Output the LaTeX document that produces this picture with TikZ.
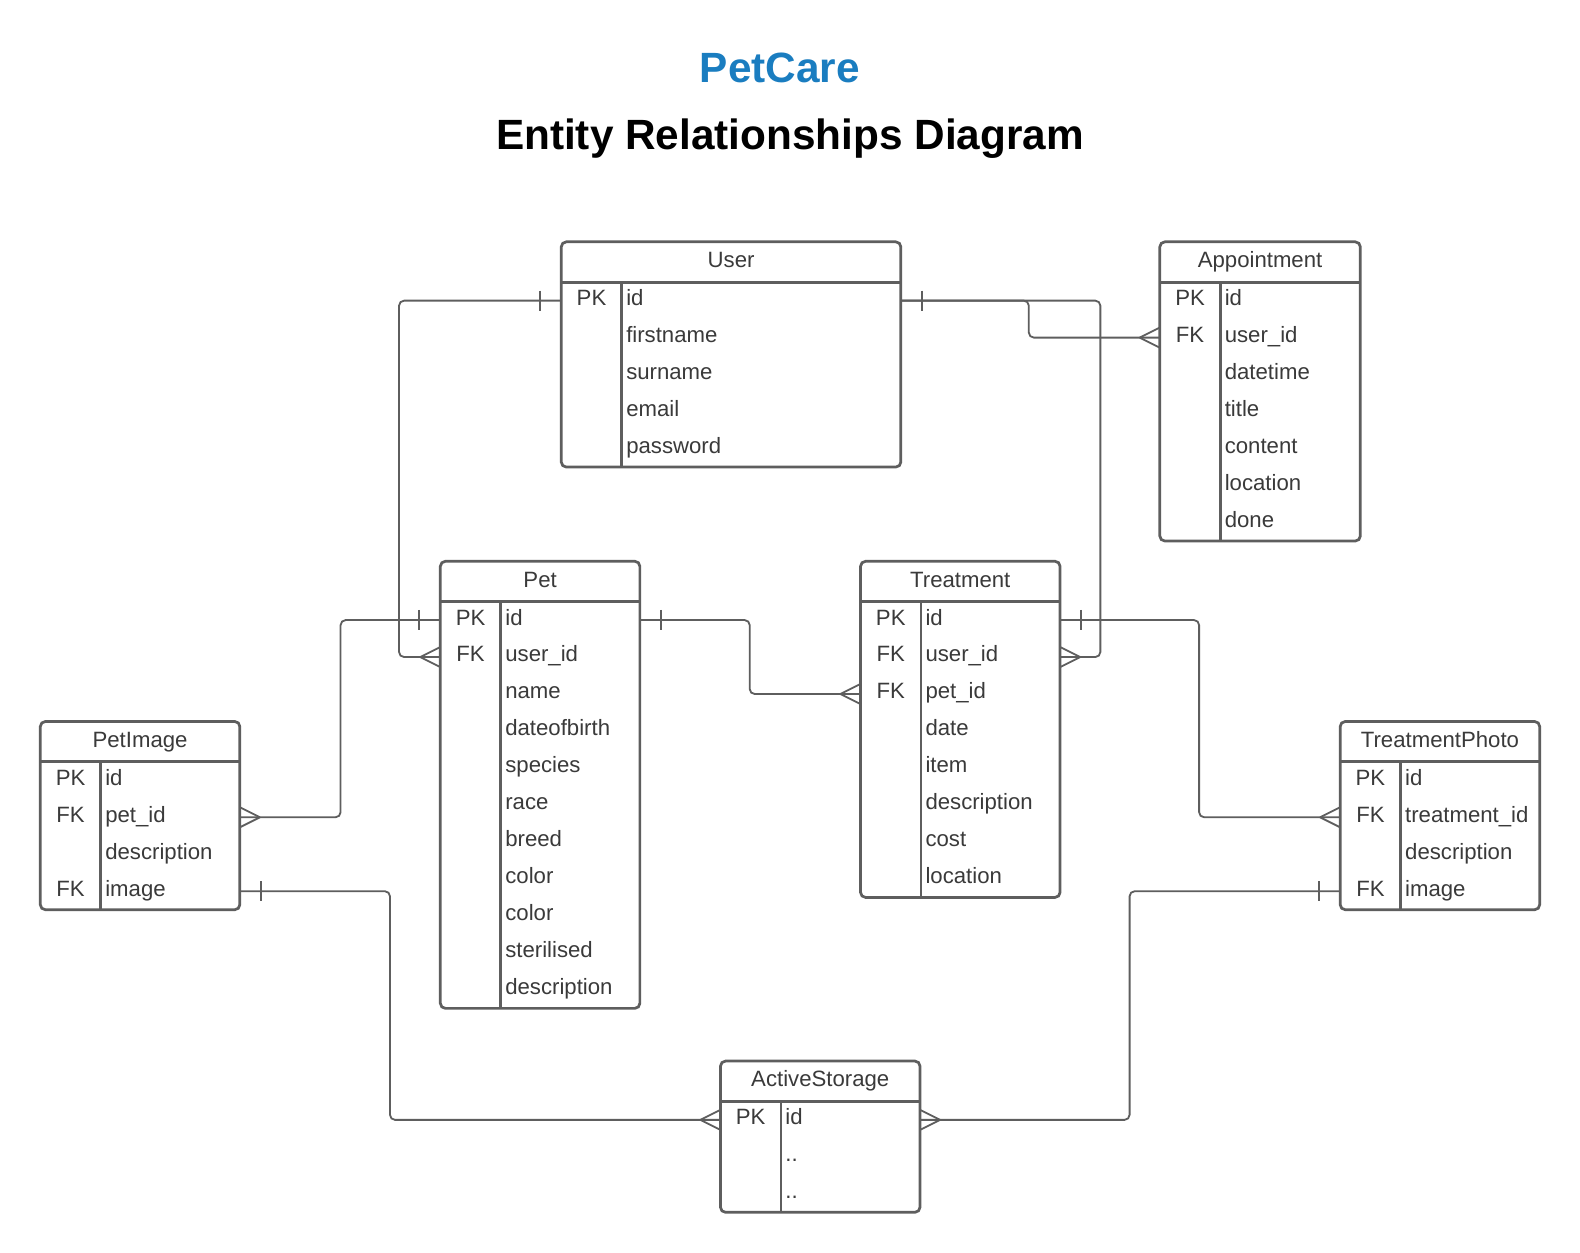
\documentclass[tikz,border=0pt]{standalone}
\usepackage{fontspec}
\setmainfont{Liberation Sans}
\usetikzlibrary{calc}
\definecolor{linegray}{HTML}{5E5E5E}
\definecolor{txtgray}{HTML}{3A3A3A}
\definecolor{petblue}{HTML}{1A7DC0}

\tikzset{
  ebox/.style={draw=linegray, line width=2.7pt, rounded corners=5pt, inner sep=0pt, outer sep=0pt, fill=white},
  eline/.style={draw=linegray, line width=2.7pt},
  rowbox/.style={inner sep=0pt, outer sep=0pt, minimum height=36.7pt},
  etext/.style={inner sep=0pt, outer sep=0pt, text=txtgray, font=\fontsize{22pt}{26pt}\selectfont, text height=15.8pt, text depth=4.6pt},
  conn/.style={draw=linegray, line width=1.8pt, rounded corners=5pt},
  crowin/.pic={\draw[draw=linegray, line width=1.8pt] (-20,0) -- (0,-10) (-20,0) -- (0,10);},
  onebar/.pic={\draw[draw=linegray, line width=1.8pt] (-21,-10) -- (-21,10);},
  ttl/.style={inner sep=0pt, outer sep=0pt, font=\fontsize{42pt}{48pt}\selectfont\bfseries, text height=30pt, text depth=0pt},
}

% #1 name, #2 x, #3 y top, #4 width, #5 rows, #6 title, #7 rows list
\newcommand\erentity[7]{%
  \pgfmathsetmacro\erh{40+#5*36.7}%
  \node[ebox, minimum width=#4pt, minimum height=\erh pt, anchor=north west] (#1) at (#2,#3) {};
  \node[etext] (#1-title) at (#2+#4/2,#3+20) {#6};
  \draw[eline] (#2,#3+40) -- (#2+#4,#3+40);
  \draw[eline] (#2+60,#3+40) -- (#2+60,#3+\erh);
  \foreach \k/\f [count=\i] in {#7} {
    \pgfmathsetmacro\ry{#3+40+(\i-0.5)*36.7}
    \node[rowbox, minimum width=#4pt] (#1-r\i) at (#2+#4/2,\ry) {};
    \node[etext] (#1-k\i) at (#2+30,\ry-0.7) {\k};
    \node[etext, anchor=west] (#1-f\i) at (#2+64.5,\ry-0.7) {\f};
  }
}

\begin{document}
\begin{tikzpicture}[x=1pt,y=-1pt]
\fill[white] (0,0) rectangle (1568,1243);
\useasboundingbox (0,0) rectangle (1568,1243);

\node[ttl, text=petblue] (title1) at (774,67) {PetCare};
\node[ttl, text=black] (title2) at (784,133) {Entity Relationships Diagram};

\erentity{user}{557}{240}{337}{5}{User}{PK/id,{}/firstname,{}/surname,{}/email,{}/password}
\erentity{appt}{1151}{240}{199}{7}{Appointment}{PK/id,FK/user\_id,{}/datetime,{}/title,{}/content,{}/location,{}/done}
\erentity{pet}{437}{557}{198}{11}{Pet}{PK/id,FK/user\_id,{}/name,{}/dateofbirth,{}/species,{}/race,{}/breed,{}/color,{}/color,{}/sterilised,{}/description}
\erentity{treat}{854}{557}{198}{8}{Treatment}{PK/id,FK/user\_id,FK/pet\_id,{}/date,{}/item,{}/description,{}/cost,{}/location}
\erentity{pimg}{40}{716}{198}{4}{PetImage}{PK/id,FK/pet\_id,{}/description,FK/image}
\erentity{tp}{1330}{716}{198}{4}{TreatmentPhoto}{PK/id,FK/treatment\_id,{}/description,FK/image}
\erentity{as}{715}{1053}{198}{3}{ActiveStorage}{PK/id,{}/..,{}/..}

% User -- Pet
\draw[conn] (user-r1.west) -- ++(-161,0) |- (pet-r2.west);
\pic at (user-r1.west) {onebar};
\pic at (pet-r2.west) {crowin};
% User -- Appointment / Treatment
\draw[conn] (user-r1.east) -- ++(127,0) |- (appt-r2.west);
\draw[conn] (user-r1.east) -- ++(198,0) |- (treat-r2.east);
\pic[xscale=-1] at (user-r1.east) {onebar};
\pic at (appt-r2.west) {crowin};
\pic[xscale=-1] at (treat-r2.east) {crowin};
% Pet -- Treatment
\draw[conn] (pet-r1.east) -- ++(109,0) |- (treat-r3.west);
\pic[xscale=-1] at (pet-r1.east) {onebar};
\pic at (treat-r3.west) {crowin};
% Pet -- PetImage
\draw[conn] (pet-r1.west) -- ++(-99,0) |- (pimg-r2.east);
\pic at (pet-r1.west) {onebar};
\pic[xscale=-1] at (pimg-r2.east) {crowin};
% Treatment -- TreatmentPhoto
\draw[conn] (treat-r1.east) -- ++(138,0) |- (tp-r2.west);
\pic[xscale=-1] at (treat-r1.east) {onebar};
\pic at (tp-r2.west) {crowin};
% PetImage -- ActiveStorage
\draw[conn] (pimg-r4.east) -- ++(149,0) |- (as-r1.west);
\pic[xscale=-1] at (pimg-r4.east) {onebar};
\pic at (as-r1.west) {crowin};
% TreatmentPhoto -- ActiveStorage
\draw[conn] (tp-r4.west) -- ++(-209,0) |- (as-r1.east);
\pic at (tp-r4.west) {onebar};
\pic[xscale=-1] at (as-r1.east) {crowin};
\end{tikzpicture}
\end{document}
